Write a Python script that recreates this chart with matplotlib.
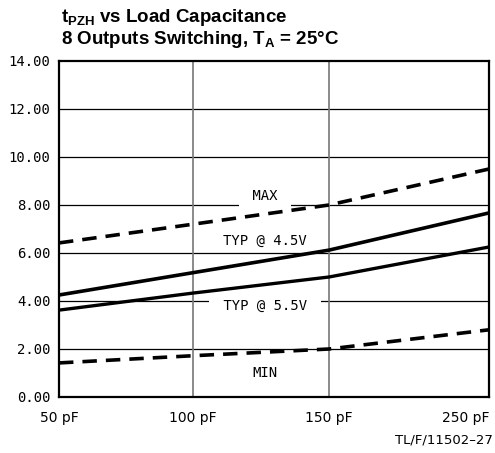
import numpy as np
import matplotlib
matplotlib.use('Agg')
import matplotlib.pyplot as plt
from matplotlib.scale import FuncScale

# load capacitance (pF) and propagation delay (ns)
cap_pf = [50, 100, 150, 250]
cap_labels = ['50 pF', '100 pF', '150 pF', '250 pF']
t_max = [6.42, 7.2, 8.0, 9.5]
t_typ45 = [4.25, 5.18, 6.12, 7.67]
t_typ55 = [3.62, 4.33, 5.0, 6.25]
t_min = [1.42, 1.72, 2.0, 2.8]
y_ticks = [0, 2, 4, 6, 8, 10, 12, 14]

# the printed graph paper is not linear in capacitance
paper_x = [0, 134, 270, 430]


def fwd(x):
    return np.interp(x, cap_pf, paper_x)


def inv(x):
    return np.interp(x, paper_x, cap_pf)


plt.rcParams['font.family'] = ['DejaVu Sans']
plt.rcParams['mathtext.fontset'] = 'custom'
plt.rcParams['mathtext.rm'] = 'Liberation Sans'
plt.rcParams['mathtext.bf'] = 'Liberation Sans:bold'

fig = plt.figure(figsize=(4.95, 4.53), dpi=100)
ax = fig.add_axes([59 / 495, 1 - 397 / 453, 430 / 495, 336 / 453])
ax.set_xscale(FuncScale(ax, (fwd, inv)))
ax.set_xlim(50, 250)
ax.set_ylim(0, 14)

for yv in y_ticks[1:-1]:
    ax.axhline(yv, color='black', lw=0.9, zorder=1)
for xv in cap_pf[1:-1]:
    ax.axvline(xv, color='#777777', lw=1.2, zorder=1)

ax.plot(cap_pf, t_max, color='black', lw=2.6, ls=(0, (4, 2.5)), zorder=3)
ax.plot(cap_pf, t_typ45, color='black', lw=2.6, zorder=3)
ax.plot(cap_pf, t_typ55, color='black', lw=2.4, zorder=3)
ax.plot(cap_pf, t_min, color='black', lw=2.6, ls=(0, (4, 2.5)), zorder=3)

lbl = dict(ha='center', va='center', fontsize=10, family='DejaVu Sans Mono',
           zorder=2)
ax.text(inv(206), 8.37, ' MAX ', bbox=dict(facecolor='white', edgecolor='none', pad=4), **lbl)
ax.text(inv(206), 6.5, 'TYP @ 4.5V', bbox=dict(facecolor='white', edgecolor='none', pad=1), **lbl)
ax.text(inv(206), 3.79, ' TYP @ 5.5V ', bbox=dict(facecolor='white', edgecolor='none', pad=4), **lbl)
ax.text(inv(206), 1.0, 'MIN', bbox=dict(facecolor='white', edgecolor='none', pad=1), **lbl)

ax.set_xticks(cap_pf)
ax.set_xticklabels(cap_labels, fontsize=10)
ax.get_xticklabels()[-1].set_ha('right')
ax.set_yticks(y_ticks)
ax.set_yticklabels(['%.2f' % v for v in y_ticks], fontsize=10,
                   family='DejaVu Sans Mono')
ax.tick_params(axis='x', length=0, pad=10)
ax.tick_params(axis='y', length=0, pad=6)
for s in ax.spines.values():
    s.set_linewidth(1.6)

fig.text(61 / 495, 1 - 17 / 453, r'$\mathbf{t_{PZH}}$ vs Load Capacitance',
         fontsize=13.5, fontweight='bold', family='Liberation Sans', va='center')
fig.text(61 / 495, 1 - 39 / 453, r'8 Outputs Switching, T$_\mathbf{A}$ = 25°C',
         fontsize=13.5, fontweight='bold', family='Liberation Sans', va='center')
fig.text(493 / 495, 1 - 440 / 453, 'TL/F/11502\u201327', fontsize=9.5,
         ha='right', va='center')

fig.savefig('out.png', dpi=100)
